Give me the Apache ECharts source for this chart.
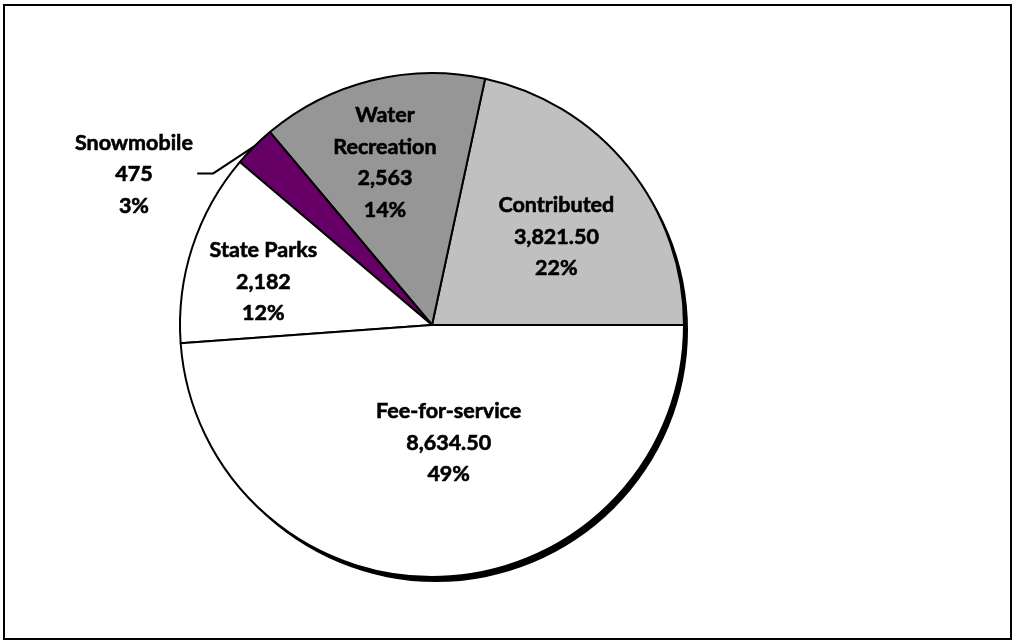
<!DOCTYPE html>
<html>
<head>
<meta charset="utf-8">
<title>Revenue by source</title>
<script src="https://cdn.jsdelivr.net/npm/echarts@6/dist/echarts.min.js"></script>
<style>
  html, body { margin: 0; padding: 0; background: #ffffff; }
  #chart { width: 1014px; height: 642px; }
</style>
</head>
<body>
<div id="chart"></div>
<script>
// Revenue sources, listed counter-clockwise from 3 o'clock
const categories = ['Contributed', 'Water Recreation', 'Snowmobile', 'State Parks', 'Fee-for-service'];
const amounts = [3821.5, 2563, 475, 2182, 8634.5];

// Slice fills
const sliceColors = ['#c0c0c0', '#969696', '#660066', '#ffffff', '#ffffff'];

// Geometry of the pie
const CX = 432, CY = 325, R = 252;

// Nudges applied to the inside labels (px)
const labelNudge = {
  'Contributed': [24, -7],
  'Water Recreation': [-16, -37],
  'State Parks': [-46, -3],
  'Fee-for-service': [12, -11]
};

function fmtValue(v) {
  return v.toLocaleString('en-US', {
    minimumFractionDigits: v % 1 ? 2 : 0,
    maximumFractionDigits: 2
  });
}

const chart = echarts.init(document.getElementById('chart'), null, { renderer: 'canvas' });

const labelFont = {
  fontFamily: 'Lato, "Open Sans", sans-serif',
  fontWeight: 'bold',
  fontSize: 21.5,
  lineHeight: 31.5,
  color: '#000000',
  textBorderColor: '#000000',
  textBorderWidth: 0.6
};

chart.setOption({
  backgroundColor: '#ffffff',
  animation: false,
  graphic: [{
    type: 'rect',
    shape: { x: 4, y: 5, width: 1007, height: 634 },
    style: { fill: 'none', stroke: '#000000', lineWidth: 2 },
    silent: true
  }],
  series: [
    {
      // drop shadow of the whole disc
      type: 'pie',
      silent: true,
      center: [CX + 4, CY + 5],
      radius: R,
      label: { show: false },
      labelLine: { show: false },
      itemStyle: { color: '#000000', borderWidth: 0 },
      data: [{ name: 'shadow', value: 1 }],
      z: 1
    },
    {
      type: 'pie',
      center: [CX, CY],
      radius: R,
      startAngle: 0,
      clockwise: false,
      avoidLabelOverlap: false,
      percentPrecision: 0,
      emphasis: { disabled: true },
      z: 2,
      itemStyle: { borderColor: '#000000', borderWidth: 2 },
      label: Object.assign({
        show: true,
        position: 'inside',
        formatter: function (p) {
          const name = p.name.length > 12 ? p.name.replace(' ', '\n') : p.name;
          return name + '\n' + fmtValue(p.value) + '\n' + p.percent + '%';
        }
      }, labelFont),
      labelLine: { show: false },
      labelLayout: function (params) {
        const name = categories[params.dataIndex];
        if (name === 'Snowmobile') {
          const p0 = params.labelLinePoints[0];
          const p1 = [p0[0] - 41, p0[1] + 27];
          const p2 = [p1[0] - 16, p1[1]];
          return {
            x: p2[0] - 4 - params.labelRect.width / 2,
            y: p2[1] + 1,
            align: 'center',
            verticalAlign: 'middle',
            labelLinePoints: [p0, p1, p2]
          };
        }
        const n = labelNudge[name] || [0, 0];
        return { dx: n[0], dy: n[1] };
      },
      data: categories.map(function (name, i) {
        const item = {
          name: name,
          value: amounts[i],
          itemStyle: { color: sliceColors[i] }
        };
        if (name === 'Snowmobile') {
          item.label = { position: 'outside' };
          item.labelLine = {
            show: true, length: 20, length2: 16,
            lineStyle: { color: '#000000', width: 2 }
          };
        }
        return item;
      })
    }
  ]
});
</script>
</body>
</html>
